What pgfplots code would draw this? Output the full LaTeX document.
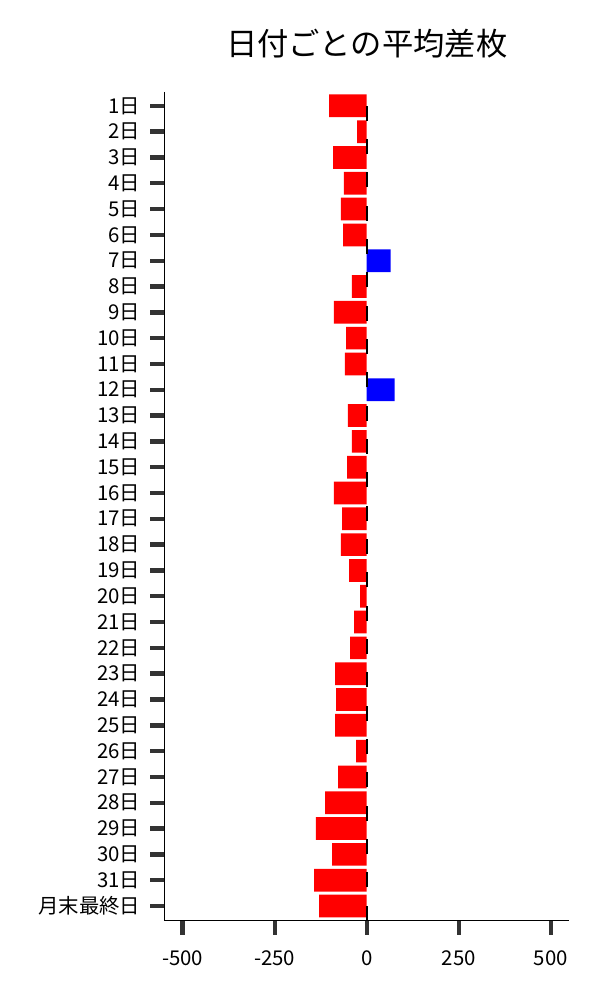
\documentclass[border=0pt]{standalone}
\usepackage{pgfplots}
\pgfplotsset{compat=1.18}
\usepackage{fontspec}
\setmainfont{Noto Sans CJK JP}
\usetikzlibrary{calc}
\definecolor{tickgray}{HTML}{333333}
\begin{document}
\begin{tikzpicture}
\begin{axis}[
  name=ax,
  scale only axis,
  width=202.4pt, height=414.4pt,
  xbar, bar shift=0pt, bar width=0.88,
  xmin=-550, xmax=550,
  ymin=-0.54, ymax=31.57,
  y dir=reverse,
  axis lines=left,
  axis line style={-, line width=0.6pt, black},
  xtick={-500,-250,0,250,500},
  xticklabels={-500,-250,0,250,500},
  ytick={0,...,31},
  yticklabels={1日,2日,3日,4日,5日,6日,7日,8日,9日,10日,11日,12日,13日,14日,15日,16日,17日,18日,19日,20日,21日,22日,23日,24日,25日,26日,27日,28日,29日,30日,31日,月末最終日},
  tick align=outside,
  major tick length=7pt,
  tick style={line width=2.2pt, color=tickgray},
  tick label style={font=\fontsize{10.2}{12}\selectfont, black},
  yticklabel style={xshift=-1.5pt},
  xticklabel style={yshift=-4.5pt},
  title={日付ごとの平均差枚},
  title style={at={(0.5,1)}, anchor=center, yshift=18.25pt, font=\fontsize{15.65}{17}\selectfont},
  clip=false,
]
\addplot[draw=none, fill=red] coordinates {
(-102,0) (-26,1) (-91,2) (-62,3) (-70,4) (-64,5) (-40,7) (-89,8) (-56,9) (-59,10)
(-51,12) (-40,13) (-53,14) (-89,15) (-67,16) (-70,17) (-48,18) (-18,19) (-34,20)
(-45,21) (-86,22) (-83,23) (-86,24) (-29,25) (-78,26) (-113,27) (-138,28) (-94,29)
(-143,30) (-129,31)};
\addplot[draw=none, fill=blue] coordinates {(65,6) (76,11)};
\addplot[sharp plot, black, line width=1pt, dash pattern=on 7.5pt off 9.17pt] coordinates {(0,31.57) (0,-0.54)};
\end{axis}
\path ($(ax.south west)+(-82.15pt,-39.65pt)$) rectangle ++(300pt,500pt);
\end{tikzpicture}
\end{document}
